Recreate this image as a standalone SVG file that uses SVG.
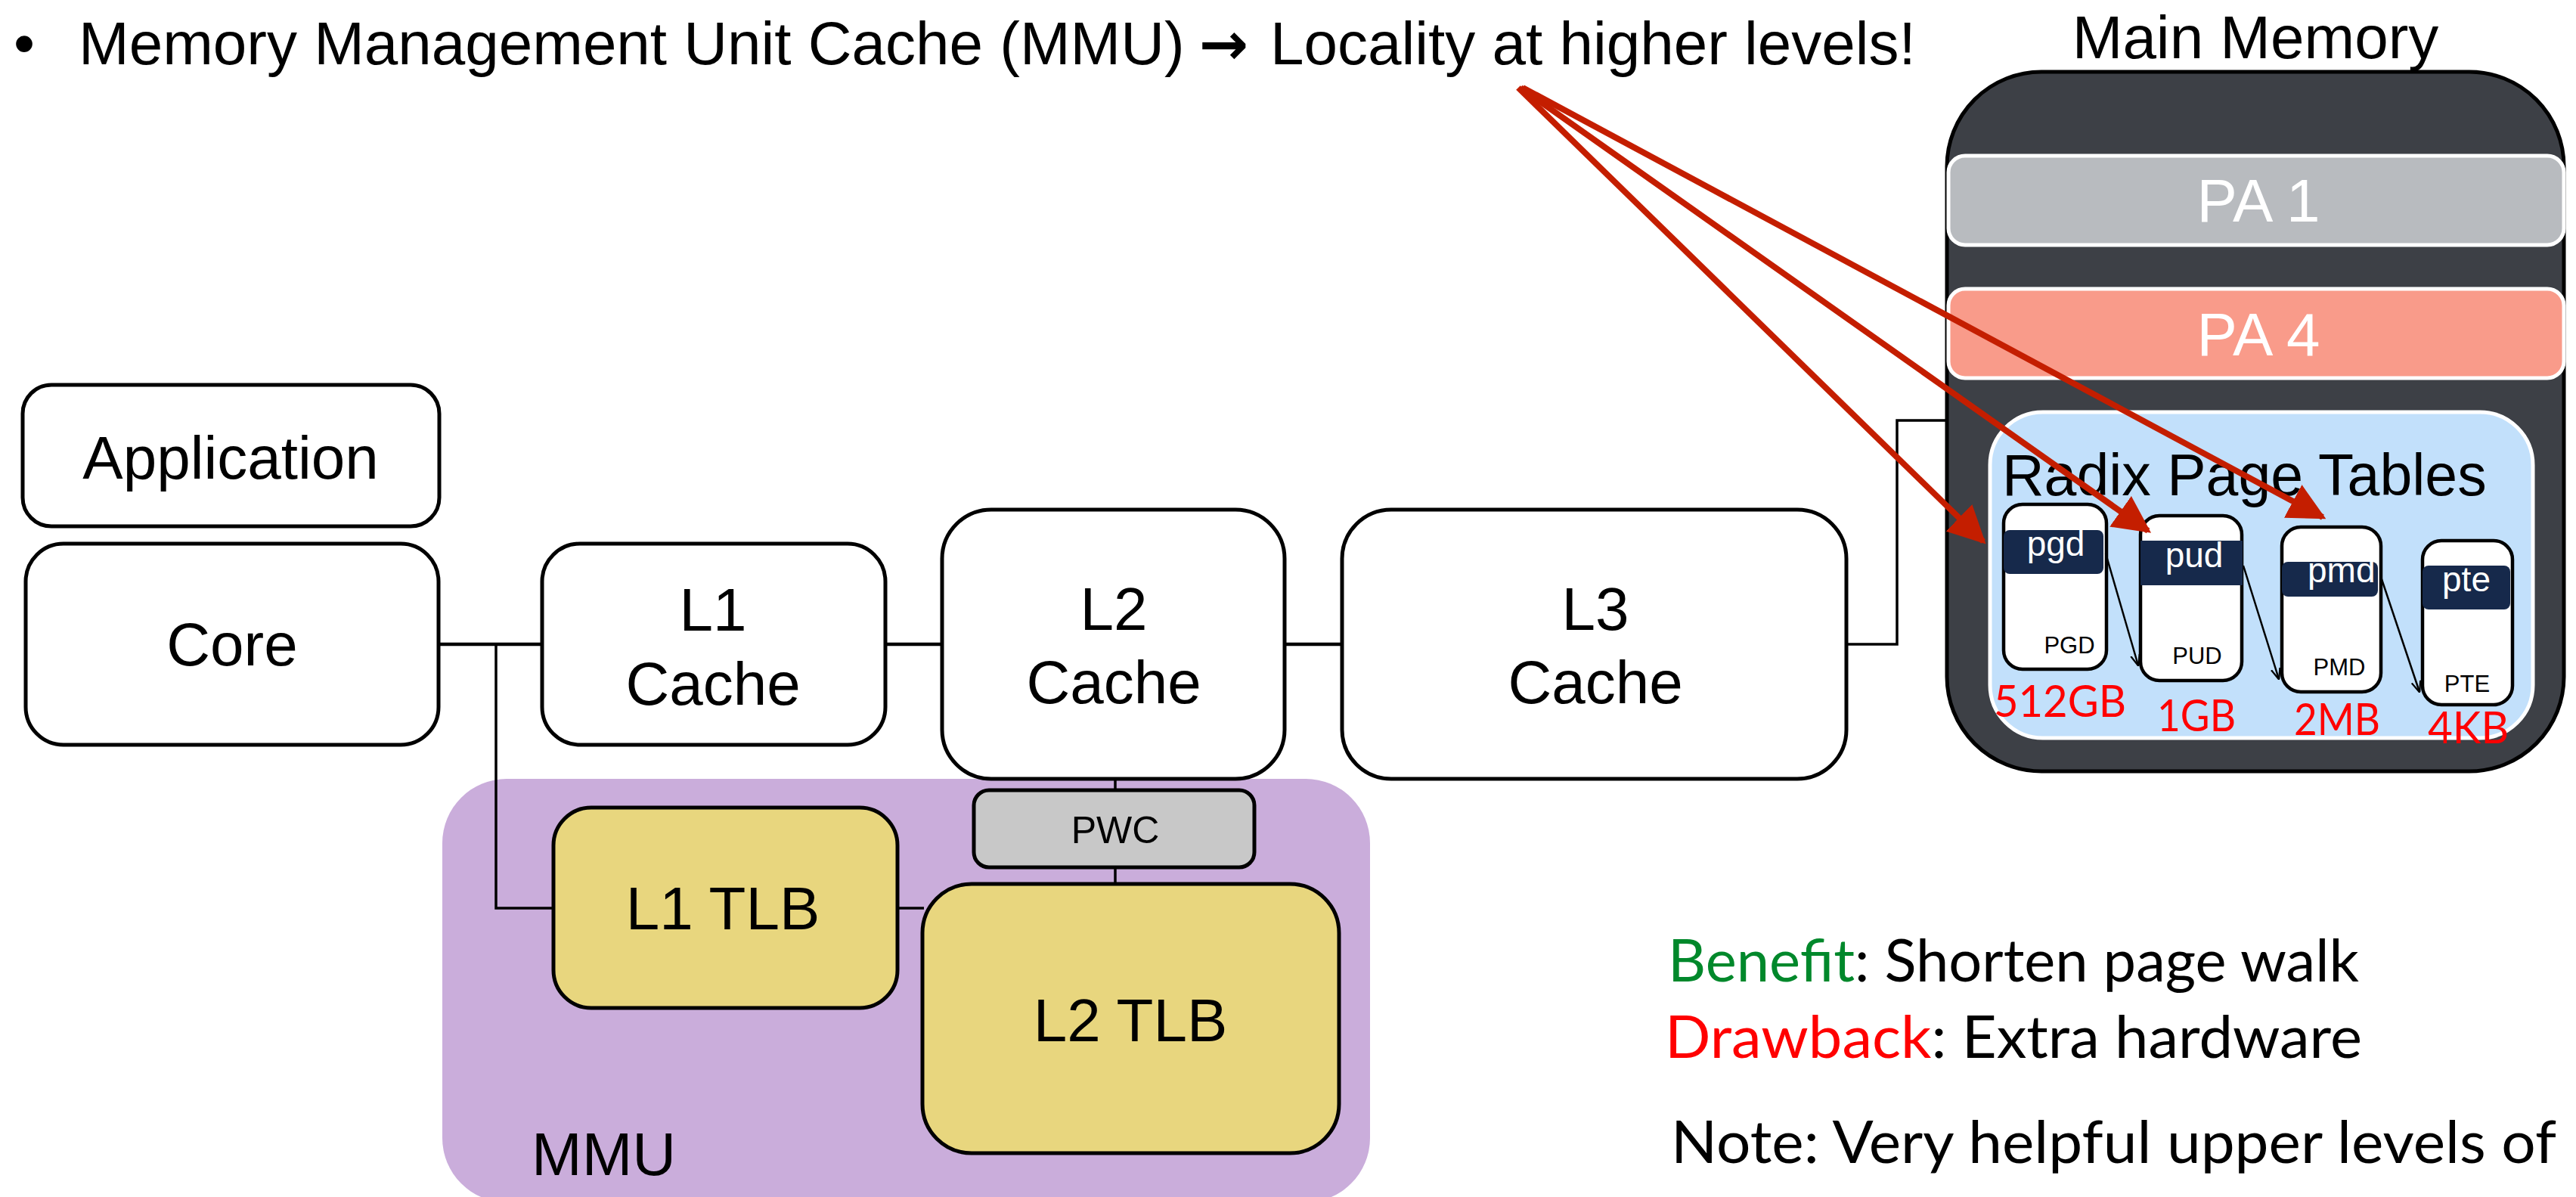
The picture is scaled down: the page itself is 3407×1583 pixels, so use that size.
<svg xmlns="http://www.w3.org/2000/svg" width="3407" height="1583" viewBox="0 0 3407 1583">
<defs>
<style>
.box{fill:#fff;stroke:#000;stroke-width:5}
.tlb{fill:#e8d67e;stroke:#000;stroke-width:5}
.t{font-family:"Liberation Sans",Arial,sans-serif;fill:#000}
.big{font-size:80px}
.mid{text-anchor:middle}
.w{fill:#fff}
.conn{fill:none;stroke:#000;stroke-width:4.5}
.thin{fill:none;stroke:#000;stroke-width:3.5}
.red{fill:none;stroke:#c41e00;stroke-width:8;marker-end:url(#ah)}
.blk{fill:none;stroke:#000;stroke-width:2.5;marker-end:url(#bh)}
.ptbox{fill:#fff;stroke:#000;stroke-width:4.5}
.hdr{fill:#16294b}
.lab{font-family:"Liberation Sans",Arial,sans-serif;font-size:31px;fill:#000;text-anchor:middle}
.hl{font-family:"Liberation Sans",Arial,sans-serif;font-size:46px;fill:#fff;text-anchor:middle}
.sz{font-family:Lato,"Open Sans",sans-serif;font-size:58px;fill:#ff0000}
.note{font-family:Lato,"Open Sans",sans-serif;font-size:78px;fill:#000}
</style>
<marker id="ah" viewBox="0 0 10 10" refX="9" refY="5" markerWidth="6.2" markerHeight="6.2" orient="auto" markerUnits="strokeWidth">
<path d="M0,0 L10,5 L0,10 z" fill="#c41e00"/>
</marker>
<marker id="bh" viewBox="0 0 10 10" refX="9.5" refY="5" markerWidth="6" markerHeight="6" orient="auto" markerUnits="strokeWidth">
<path d="M0,1 L10,5 L0,9" fill="none" stroke="#000" stroke-width="1.5"/>
</marker>
<clipPath id="pmdclip"><rect x="3018" y="697" width="131" height="218" rx="25"/></clipPath>
</defs>

<g id="title">
<text class="t big" x="18" y="85">•</text>
<text class="t big" x="104" y="85">Memory Management Unit Cache (MMU)</text>
<text x="1586" y="85" style="font-family:'DejaVu Sans',sans-serif;font-size:78px;font-weight:bold">→</text>
<text class="t big" x="1680" y="85">Locality at higher levels!</text>
</g>

<g id="mmu">
<rect x="585" y="1030" width="1227" height="560" rx="85" fill="#caaddb"/>
<text class="t big" x="703" y="1554">MMU</text>
</g>

<g id="application">
<rect class="box" x="30" y="509" width="551" height="187" rx="38"/>
<text class="t big mid" x="305" y="633">Application</text>
</g>

<g id="core">
<rect class="box" x="34" y="719" width="546" height="266" rx="50"/>
<text class="t big mid" x="307" y="880">Core</text>
</g>

<g id="l1cache">
<rect class="box" x="717" y="719" width="454" height="266" rx="50"/>
<text class="t big mid" x="943" y="834">L1</text>
<text class="t big mid" x="943" y="932">Cache</text>
</g>

<g id="l2cache">
<rect class="box" x="1246" y="674" width="453" height="356" rx="65"/>
<text class="t big mid" x="1473" y="833">L2</text>
<text class="t big mid" x="1473" y="930">Cache</text>
</g>

<g id="l3cache">
<rect class="box" x="1775" y="674" width="667" height="356" rx="65"/>
<text class="t big mid" x="2110" y="833">L3</text>
<text class="t big mid" x="2110" y="930">Cache</text>
</g>

<g id="pwc">
<rect x="1288" y="1045" width="371" height="102" rx="20" fill="#c8c8c8" stroke="#000" stroke-width="5"/>
<text class="t mid" x="1475" y="1115" style="font-size:50px">PWC</text>
</g>

<g id="l1tlb">
<rect class="tlb" x="732" y="1068" width="455" height="265" rx="50"/>
<text class="t big mid" x="956" y="1229">L1 TLB</text>
</g>

<g id="l2tlb">
<rect class="tlb" x="1220" y="1169" width="551" height="356" rx="65"/>
<text class="t big mid" x="1495" y="1377">L2 TLB</text>
</g>

<g id="mainmemory">
<text class="t big mid" x="2983" y="77">Main Memory</text>
<rect x="2575" y="95" width="816" height="925" rx="125" fill="#3d4046" stroke="#000" stroke-width="5"/>
</g>

<g id="pa1">
<rect x="2577" y="206" width="814" height="118" rx="22" fill="#b8bbbf" stroke="#fff" stroke-width="5"/>
<text class="t big mid w" x="2987" y="293">PA 1</text>
</g>

<g id="pa4">
<rect x="2577" y="382" width="814" height="118" rx="22" fill="#f99b8a" stroke="#fff" stroke-width="5"/>
<text class="t big mid w" x="2987" y="470">PA 4</text>
</g>

<g id="radix">
<rect x="2632" y="545" width="718" height="431" rx="70" fill="#c2e0fb" stroke="#fff" stroke-width="5"/>
<text class="t" x="2648" y="655" style="font-size:77px">Radix Page Tables</text>
</g>

<g id="pgd">
<rect class="ptbox" x="2650" y="667" width="136" height="218" rx="25"/>
<rect class="hdr" x="2650" y="701" width="132" height="58" rx="8"/>
<text class="hl" x="2719" y="735">pgd</text>
<text class="lab" x="2737" y="864">PGD</text>
</g>

<g id="pud">
<rect class="ptbox" x="2831" y="682" width="134" height="218" rx="25"/>
<rect class="hdr" x="2831" y="715" width="135" height="59"/>
<text class="hl" x="2902" y="750">pud</text>
<text class="lab" x="2906" y="878">PUD</text>
</g>

<g id="pmd">
<rect class="ptbox" x="3018" y="697" width="131" height="218" rx="25"/>
<g clip-path="url(#pmdclip)">
<rect class="hdr" x="3018" y="743" width="127" height="46" rx="8"/>
<text class="hl" x="3052" y="770" style="text-anchor:start">pmd</text>
</g>
<text class="lab" x="3094" y="893">PMD</text>
</g>

<g id="pte">
<rect class="ptbox" x="3204" y="715" width="119" height="217" rx="25"/>
<rect class="hdr" x="3204" y="748" width="116" height="58" rx="8"/>
<text class="hl" x="3262" y="782">pte</text>
<text class="lab" x="3263" y="915">PTE</text>
</g>

<g id="sizes">
<text class="sz" x="2637" y="948" textLength="175" lengthAdjust="spacingAndGlyphs">512GB</text>
<text class="sz" x="2853" y="967" textLength="104" lengthAdjust="spacingAndGlyphs">1GB</text>
<text class="sz" x="3034" y="972" textLength="114" lengthAdjust="spacingAndGlyphs">2MB</text>
<text class="sz" x="3211" y="983" textLength="107" lengthAdjust="spacingAndGlyphs">4KB</text>
</g>

<g id="connectors">
<line class="conn" x1="580" y1="852" x2="717" y2="852"/>
<line class="conn" x1="1171" y1="852" x2="1246" y2="852"/>
<line class="conn" x1="1699" y1="852" x2="1775" y2="852"/>
<polyline class="thin" points="2442,852 2509,852 2509,556 2575,556"/>
<polyline class="thin" points="656,852 656,1201 732,1201"/>
<line class="thin" x1="1187" y1="1201" x2="1222" y2="1201"/>
<line class="thin" x1="1475" y1="1030" x2="1475" y2="1045"/>
<line class="thin" x1="1475" y1="1147" x2="1475" y2="1169"/>
<line class="blk" x1="2785" y1="732" x2="2828" y2="880"/>
<line class="blk" x1="2967" y1="748" x2="3014" y2="898"/>
<line class="blk" x1="3150" y1="766" x2="3200" y2="915"/>
<line class="red" x1="2008" y1="116" x2="2623" y2="716"/>
<line class="red" x1="2011" y1="116" x2="2841" y2="702"/>
<line class="red" x1="2014" y1="116" x2="3072" y2="684"/>
</g>

<g id="notes">
<text class="note" x="2206" y="1298" textLength="914" lengthAdjust="spacingAndGlyphs"><tspan fill="#00882b">Benefit</tspan>: Shorten page walk</text>
<text class="note" x="2202" y="1399" textLength="922" lengthAdjust="spacingAndGlyphs"><tspan fill="#ff0000">Drawback</tspan>: Extra hardware</text>
<text class="note" x="2210" y="1538" textLength="1171" lengthAdjust="spacingAndGlyphs">Note: Very helpful upper levels of</text>
</g>
</svg>
